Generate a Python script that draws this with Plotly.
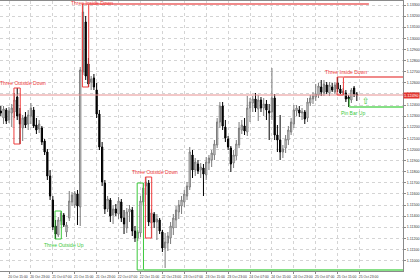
import plotly.graph_objects as go

# ---------------- data ----------------
bar_index = list(range(131))

open_ = [
    1.12346, 1.12283, 1.12355, 1.12265, 1.12328, 1.12337, 1.12472, 1.12319, 1.12193, 1.12292,
    1.12229, 1.12301, 1.12355, 1.12220, 1.12184, 1.12193, 1.12076, 1.11977, 1.11761, 1.11545,
    1.11311, 1.11230, 1.11356, 1.11410, 1.11257, 1.11383, 1.11527, 1.11500, 1.11599, 1.11482,
    1.12697, 1.13147, 1.12769, 1.12607, 1.12643, 1.12535, 1.12319, 1.12022, 1.11698, 1.11464,
    1.11545, 1.11410, 1.11464, 1.11419, 1.11527, 1.11383, 1.11293, 1.11437, 1.11455, 1.11266,
    1.11203, 1.11248, 1.11527, 1.11671, 1.11698, 1.11338, 1.11419, 1.11347, 1.11365, 1.11257,
    1.11113, 1.11158, 1.11203, 1.11293, 1.11365, 1.11437, 1.11491, 1.11527, 1.11581, 1.11662,
    1.11950, 1.11815, 1.11869, 1.11815, 1.11833, 1.11770, 1.11878, 1.11905, 1.11950, 1.12040,
    1.12247, 1.12391, 1.12202, 1.12094, 1.12013, 1.11878, 1.11941, 1.12040, 1.12175, 1.12211,
    1.12157, 1.12373, 1.12418, 1.12454, 1.12364, 1.12445, 1.12373, 1.12409, 1.12346, 1.12337,
    1.12463, 1.12130, 1.12085, 1.11977, 1.12013, 1.12085, 1.12157, 1.12229, 1.12346, 1.12355,
    1.12328, 1.12337, 1.12283, 1.12418, 1.12454, 1.12472, 1.12490, 1.12562, 1.12508, 1.12580,
    1.12508, 1.12562, 1.12517, 1.12598, 1.12544, 1.12508, 1.12508, 1.12472, 1.12445, 1.12553,
    1.12499]

high = [
    1.12391, 1.12391, 1.12373, 1.12382, 1.12409, 1.12508, 1.12553, 1.12373, 1.12310, 1.12337,
    1.12355, 1.12418, 1.12382, 1.12283, 1.12265, 1.12211, 1.12094, 1.12004, 1.11815, 1.11581,
    1.11365, 1.11392, 1.11446, 1.11428, 1.11347, 1.11626, 1.11617, 1.11626, 1.11635, 1.12742,
    1.13309, 1.13201, 1.12823, 1.12661, 1.12679, 1.12598, 1.12355, 1.12067, 1.11725, 1.11581,
    1.11563, 1.11500, 1.11509, 1.11572, 1.11554, 1.11455, 1.11473, 1.11500, 1.11482, 1.11311,
    1.11275, 1.11581, 1.11698, 1.11752, 1.11725, 1.11464, 1.11437, 1.11419, 1.11383, 1.11275,
    1.11248, 1.11257, 1.11347, 1.11419, 1.11491, 1.11545, 1.11581, 1.11635, 1.11707, 1.12022,
    1.11995, 1.11923, 1.11905, 1.11878, 1.11869, 1.11932, 1.11950, 1.11995, 1.12085, 1.12283,
    1.12427, 1.12427, 1.12265, 1.12121, 1.12031, 1.11995, 1.12085, 1.12247, 1.12265, 1.12283,
    1.12481, 1.12463, 1.12481, 1.12508, 1.12490, 1.12472, 1.12463, 1.12445, 1.12409, 1.12733,
    1.12499, 1.12220, 1.12310, 1.12040, 1.12130, 1.12211, 1.12283, 1.12400, 1.12400, 1.12391,
    1.12373, 1.12355, 1.12463, 1.12490, 1.12517, 1.12589, 1.12598, 1.12625, 1.12625, 1.12607,
    1.12607, 1.12598, 1.12607, 1.12652, 1.12580, 1.12553, 1.12535, 1.12490, 1.12553, 1.12571,
    1.12517]

low = [
    1.12301, 1.12229, 1.12229, 1.12238, 1.12202, 1.12283, 1.12265, 1.12049, 1.12076, 1.12193,
    1.12175, 1.12229, 1.12193, 1.12139, 1.12148, 1.12040, 1.11950, 1.11725, 1.11545, 1.11275,
    1.11194, 1.11212, 1.11320, 1.11302, 1.11212, 1.11356, 1.11491, 1.11473, 1.11320, 1.11311,
    1.12670, 1.12625, 1.12562, 1.12535, 1.12535, 1.12283, 1.11995, 1.11671, 1.11419, 1.11437,
    1.11347, 1.11329, 1.11401, 1.11374, 1.11347, 1.11239, 1.11248, 1.11347, 1.11221, 1.11167,
    1.11176, 1.11212, 1.11491, 1.11590, 1.11311, 1.11203, 1.11293, 1.11185, 1.11239, 1.11077,
    1.10933, 1.11086, 1.11149, 1.11230, 1.11293, 1.11374, 1.11419, 1.11482, 1.11545, 1.11635,
    1.11743, 1.11761, 1.11779, 1.11743, 1.11581, 1.11725, 1.11815, 1.11842, 1.11905, 1.12013,
    1.12193, 1.12175, 1.12067, 1.11995, 1.11797, 1.11833, 1.11905, 1.12013, 1.12139, 1.12130,
    1.12121, 1.12247, 1.12337, 1.12337, 1.12256, 1.12337, 1.12301, 1.12265, 1.12085, 1.12265,
    1.12085, 1.11977, 1.11905, 1.11923, 1.11968, 1.12040, 1.12130, 1.12193, 1.12301, 1.12292,
    1.12265, 1.12229, 1.12247, 1.12391, 1.12409, 1.12436, 1.12463, 1.12481, 1.12481, 1.12499,
    1.12481, 1.12517, 1.12499, 1.12517, 1.12499, 1.12490, 1.12427, 1.12382, 1.12418, 1.12472,
    1.12436]

close = [
    1.12328, 1.12364, 1.12256, 1.12346, 1.12373, 1.12445, 1.12301, 1.12229, 1.12283, 1.12220,
    1.12310, 1.12373, 1.12211, 1.12175, 1.12229, 1.12067, 1.11977, 1.11761, 1.11581, 1.11302,
    1.11239, 1.11365, 1.11428, 1.11320, 1.11320, 1.11536, 1.11590, 1.11608, 1.11491, 1.12715,
    1.13237, 1.12661, 1.12589, 1.12634, 1.12562, 1.12319, 1.12022, 1.11707, 1.11464, 1.11554,
    1.11401, 1.11464, 1.11428, 1.11536, 1.11383, 1.11329, 1.11437, 1.11464, 1.11266, 1.11203,
    1.11257, 1.11536, 1.11653, 1.11707, 1.11347, 1.11428, 1.11347, 1.11374, 1.11266, 1.11113,
    1.11167, 1.11221, 1.11311, 1.11383, 1.11455, 1.11500, 1.11545, 1.11599, 1.11671, 1.11977,
    1.11815, 1.11887, 1.11806, 1.11842, 1.11779, 1.11887, 1.11923, 1.11968, 1.12049, 1.12247,
    1.12391, 1.12211, 1.12103, 1.12022, 1.11869, 1.11950, 1.12049, 1.12193, 1.12220, 1.12166,
    1.12373, 1.12427, 1.12454, 1.12373, 1.12445, 1.12373, 1.12409, 1.12355, 1.12328, 1.12463,
    1.12130, 1.12085, 1.11977, 1.12004, 1.12094, 1.12175, 1.12247, 1.12355, 1.12373, 1.12328,
    1.12337, 1.12274, 1.12427, 1.12463, 1.12481, 1.12499, 1.12571, 1.12517, 1.12589, 1.12517,
    1.12580, 1.12535, 1.12580, 1.12544, 1.12508, 1.12526, 1.12454, 1.12454, 1.12535, 1.12499,
    1.12490]

time_label_bars = [3, 11, 19, 27, 35, 43, 51, 59, 67, 75, 83, 91, 99, 107, 115, 123, 131]
time_labels = ["20 Oct 15:00", "20 Oct 23:00", "21 Oct 07:00", "21 Oct 15:00", "21 Oct 23:00",
               "22 Oct 07:00", "22 Oct 15:00", "22 Oct 23:00", "23 Oct 07:00", "23 Oct 15:00",
               "23 Oct 23:00", "24 Oct 07:00", "24 Oct 15:00", "24 Oct 23:00", "25 Oct 07:00",
               "25 Oct 15:00", "25 Oct 23:00"]

price_ticks = [1.1100, 1.1110, 1.1120, 1.1130, 1.1140, 1.1150, 1.1160, 1.1170, 1.1180, 1.1190,
               1.1200, 1.1210, 1.1220, 1.1230, 1.1240, 1.1250, 1.1260, 1.1270, 1.1280, 1.1290,
               1.1300, 1.1310, 1.1320, 1.1330]

# candlestick patterns: name, first bar, last bar, direction, optional bottom, extension end bar
pattern_names = ["Three Outside Down", "Three Inside Down", "Three Outside Up", "",
                 "Three Outside Down", "Three Inside Down"]
pattern_first = [5, 30, 20, 50, 53, 123]
pattern_last = [7, 32, 22, 52, 55, 125]
pattern_bull = [False, False, True, True, False, False]
pattern_bottom = [None, None, None, 1.10915, None, None]
pattern_line_end = [None, 134.4, None, 146.9, None, 146.9]

pin_bar_name = "Pin Bar Up"
pin_bar_index = 127
pin_arrow_bar = 133.2
pin_arrow_price = 1.12432

# ---------------- styling ----------------
RED = "#f03c3c"
RED_LINE = "#f08a8a"
GREEN = "#3cc83c"
GREEN_LINE = "#86e086"
FONT = "Liberation Sans, Arial, sans-serif"

X_MIN, X_MAX = -0.29, 146.86
Y_MIN, Y_MAX = 1.10906, 1.13336

fig = go.Figure()
fig.add_trace(go.Candlestick(
    x=bar_index, open=open_, high=high, low=low, close=close,
    increasing=dict(line=dict(color="#7a7a7a", width=1), fillcolor="white"),
    decreasing=dict(line=dict(color="black", width=1), fillcolor="black"),
    whiskerwidth=0, showlegend=False, hoverinfo="skip"))

shapes = []
annotations = []

# current price line
last = close[-1]
shapes.append(dict(type="line", xref="paper", x0=0, x1=1, yref="y", y0=last, y1=last,
                   line=dict(color="#e69090", width=1), layer="above"))

for name, a, b, bull, bot, lend in zip(pattern_names, pattern_first, pattern_last,
                                       pattern_bull, pattern_bottom, pattern_line_end):
    top = max(high[a:b + 1])
    bottom = bot if bot is not None else min(low[a:b + 1])
    col = GREEN if bull else RED
    lcol = GREEN_LINE if bull else RED_LINE
    x0, x1 = a - 0.2, b + 0.1
    shapes.append(dict(type="rect", xref="x", yref="y", x0=x0, x1=x1, y0=bottom, y1=top,
                       line=dict(color=col, width=1), fillcolor="rgba(0,0,0,0)", layer="above"))
    if lend is not None:
        lvl = bottom if bull else top
        shapes.append(dict(type="line", xref="x", yref="y", x0=x1, x1=lend, y0=lvl, y1=lvl,
                           line=dict(color=lcol, width=2), layer="above"))
    if name:
        # keep a label that would sit above the chart top inside the frame
        ys = -1 if bull else (-4 if top > Y_MAX - 0.0004 else 0)
        annotations.append(dict(
            x=(a + b) / 2, y=(bottom if bull else top), xref="x", yref="y",
            text=name, showarrow=False, xanchor="center",
            yanchor="top" if bull else "bottom", xshift=6, yshift=ys,
            font=dict(family=FONT, size=5, color=col)))

# pin bar
pb_hi, pb_lo = high[pin_bar_index], low[pin_bar_index]
shapes.append(dict(type="line", xref="x", yref="y", x0=pin_bar_index + 0.2, x1=pin_bar_index + 0.2,
                   y0=pb_lo, y1=pb_hi - 0.0003, line=dict(color=GREEN, width=1), layer="above"))
shapes.append(dict(type="line", xref="x", yref="y", x0=pin_bar_index + 0.2, x1=X_MAX,
                   y0=pb_lo, y1=pb_lo, line=dict(color=GREEN_LINE, width=2), layer="above"))
annotations.append(dict(x=pin_bar_index, y=pb_lo, xref="x", yref="y", text=pin_bar_name,
                        showarrow=False, xanchor="center", yanchor="top", xshift=4, yshift=-1,
                        font=dict(family=FONT, size=5, color=GREEN)))
annotations.append(dict(x=pin_arrow_bar, y=pin_arrow_price, xref="x", yref="y", text="⇧",
                        showarrow=False, xanchor="center", yanchor="middle",
                        font=dict(family="DejaVu Sans", size=9, color=GREEN)))

# current price tag on the price scale
annotations.append(dict(x=1, y=last, xref="paper", yref="y", text=f"{last:.5f}",
                        showarrow=False, xanchor="left", yanchor="middle",
                        bgcolor="#e3352f", borderpad=0,
                        font=dict(family=FONT, size=4, color="white")))

fig.update_layout(
    width=420, height=280,
    margin=dict(l=0, r=8, t=1, b=9),
    paper_bgcolor="white", plot_bgcolor="white",
    showlegend=False, boxgap=0.35,
    shapes=shapes, annotations=annotations,
    xaxis=dict(range=[X_MIN, X_MAX], rangeslider=dict(visible=False),
               tickmode="array", tickvals=time_label_bars, ticktext=time_labels,
               showgrid=True, gridcolor="#d4d4d4", griddash="dot", gridwidth=1,
               zeroline=False, showline=True, linecolor="#8a8a8a", linewidth=1, mirror=True,
               ticks="outside", ticklen=2, tickcolor="#8a8a8a",
               ticklabelshift=9, ticklabelstandoff=0,
               tickfont=dict(family=FONT, size=3.4, color="#333333")),
    yaxis=dict(range=[Y_MIN, Y_MAX], side="right",
               tickmode="array", tickvals=price_ticks,
               ticktext=[f"{p:.5f}" for p in price_ticks],
               showgrid=True, gridcolor="#d4d4d4", griddash="dot", gridwidth=1,
               zeroline=False, showline=True, linecolor="#8a8a8a", linewidth=1,
               ticks="outside", ticklen=2, tickcolor="#8a8a8a", ticklabelstandoff=0,
               tickfont=dict(family=FONT, size=3.6, color="#333333")),
)

fig.write_html("out.html", config={"displayModeBar": False, "staticPlot": True})
